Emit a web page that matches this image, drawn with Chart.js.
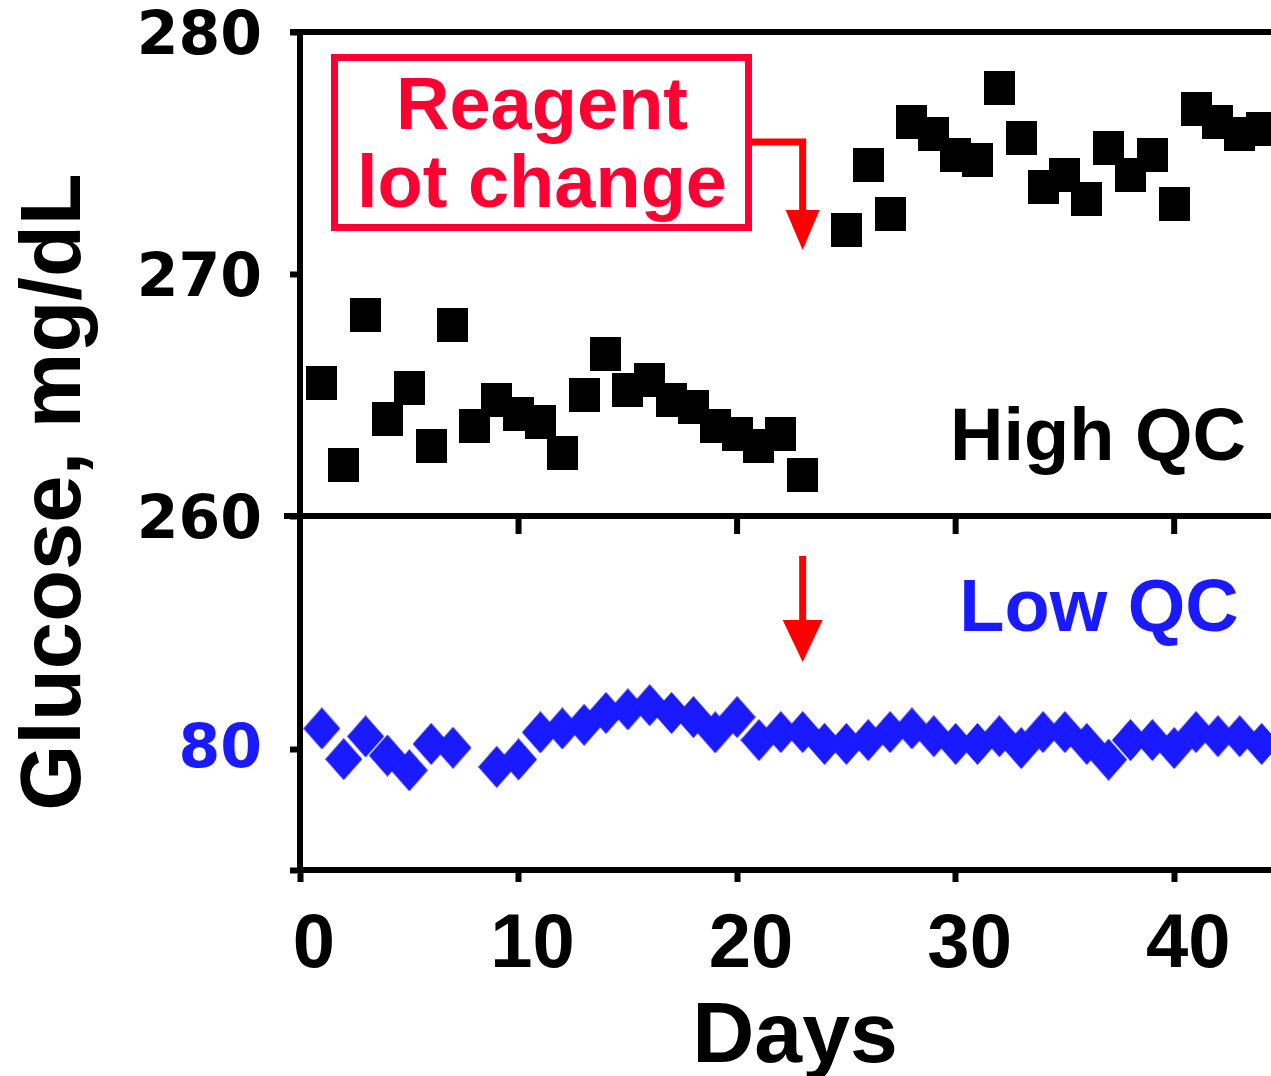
<!DOCTYPE html>
<html>
<head>
<meta charset="utf-8">
<title>Glucose QC - changement de lot</title>
<script src="https://cdn.jsdelivr.net/npm/chart.js@4.4.1/dist/chart.umd.min.js"></script>
<style>
  html, body { margin: 0; padding: 0; background: #fff; }
  #wrap { width: 1271px; height: 1076px; position: relative; }
</style>
</head>
<body>
<div id="wrap"><canvas id="qcChart"></canvas></div>
<script>
// Données
const highDays = [1, 2, 3, 4, 5, 6, 7, 8, 9, 10, 11, 12, 13, 14, 15, 16, 17, 18, 19, 20, 21, 22, 23,
                  25, 26, 27, 28, 29, 30, 31, 32, 33, 34, 35, 36, 37, 38, 39, 40, 41, 42, 43, 44];
const highValues = [265.5, 262.1, 268.3, 264.0, 265.3, 262.9, 267.9, 263.7, 264.8, 264.2, 263.9, 262.6,
                    265.0, 266.7, 265.2, 265.6, 264.8, 264.5, 263.7, 263.4, 262.9, 263.4, 261.7,
                    271.8, 274.5, 272.5, 276.3, 275.8, 274.9, 274.7, 277.7, 275.6, 273.6, 274.1,
                    273.1, 275.2, 274.1, 274.9, 272.9, 276.8, 276.3, 275.8, 276.0];
const lowDays = [1, 2, 3, 4, 5, 6, 7, 9, 10, 11, 12, 13, 14, 15, 16, 17, 18, 19, 20, 21, 22, 23, 24,
                 25, 26, 27, 28, 29, 30, 31, 32, 33, 34, 35, 36, 37, 38, 39, 40, 41, 42, 43, 44];
const lowValues = [80.85, 79.58, 80.52, 79.73, 79.12, 80.21, 80.05, 79.26, 79.57, 80.69, 80.85, 81.0,
                   81.49, 81.64, 81.81, 81.49, 81.32, 80.69, 81.32, 80.37, 80.70, 80.70, 80.21,
                   80.21, 80.37, 80.70, 80.85, 80.53, 80.21, 80.21, 80.53, 80.04, 80.70, 80.70,
                   80.21, 79.56, 80.37, 80.37, 80.04, 80.70, 80.53, 80.53, 80.21];
const dayTicks = [0, 10, 20, 30, 40];
const highTicks = [260, 270, 280];
const lowTicks = [75, 80];
const lowTickLabels = ['', '80'];
const lotChangeDay = 23;

const BLACK = '#000000';
const BLUE = '#1a1aff';
const RED = '#ff0000';
const PINK_RED = '#ff0033';
const FONT = "'Liberation Sans', Arial, sans-serif";
const WIDE_FONT = "'DejaVu Sans', Verdana, sans-serif";

// Marqueurs : carré noir et losange bleu
function squareMarker(w, h, color) {
    const c = document.createElement('canvas');
    c.width = w; c.height = h;
    const g = c.getContext('2d');
    g.fillStyle = color;
    g.fillRect(0, 0, w, h);
    return c;
}
function diamondMarker(w, h, color) {
    const c = document.createElement('canvas');
    c.width = w; c.height = h;
    const g = c.getContext('2d');
    g.fillStyle = color;
    g.beginPath();
    g.moveTo(w / 2, 0);
    g.lineTo(w, h / 2);
    g.lineTo(w / 2, h);
    g.lineTo(0, h / 2);
    g.closePath();
    g.fill();
    return c;
}

// Pas de marge automatique autour des axes
function noPadding(s) {
    s.paddingTop = 0;
    s.paddingBottom = 0;
    s.paddingLeft = 0;
    s.paddingRight = 0;
}

// Cadre, axe du milieu, flèches et textes
const decorPlugin = {
    id: 'decor',
    beforeDatasetsDraw(chart) {
        const ctx = chart.ctx;
        const area = chart.chartArea;
        const x = chart.scales.x;
        const mid = chart.scales.yHigh.bottom;
        ctx.save();
        ctx.strokeStyle = BLACK;
        ctx.lineWidth = 6;
        ctx.beginPath();
        ctx.moveTo(area.left - 10, area.top);
        ctx.lineTo(area.right + 5, area.top);
        ctx.moveTo(area.left - 16, mid);
        ctx.lineTo(area.right + 5, mid);
        dayTicks.forEach(v => {
            if (v === 0) return;
            const px = x.getPixelForValue(v);
            ctx.moveTo(px, mid);
            ctx.lineTo(px, mid + 18);
        });
        ctx.stroke();
        ctx.restore();
    },
    afterDraw(chart) {
        const ctx = chart.ctx;
        const x = chart.scales.x;
        const ax = x.getPixelForValue(lotChangeDay);
        ctx.save();

        // Titre de l'axe Y
        ctx.fillStyle = BLACK;
        ctx.font = 'bold 85px ' + FONT;
        ctx.textAlign = 'center';
        ctx.textBaseline = 'alphabetic';
        ctx.translate(80, 492);
        ctx.rotate(-Math.PI / 2);
        ctx.fillText('Glucose, mg/dL', 0, 0);
        ctx.setTransform(1, 0, 0, 1, 0, 0);

        // Titre de l'axe X
        ctx.font = 'bold 86px ' + FONT;
        ctx.fillText('Days', 795, 1062);

        // Encadré "Reagent lot change"
        ctx.strokeStyle = PINK_RED;
        ctx.lineWidth = 7;
        ctx.strokeRect(334.5, 57.5, 414, 170);
        ctx.fillStyle = PINK_RED;
        ctx.font = 'bold 74px ' + FONT;
        ctx.fillText('Reagent', 542, 129);
        ctx.fillText('lot change', 542, 207);

        // Flèche du haut
        ctx.strokeStyle = RED;
        ctx.fillStyle = RED;
        ctx.lineWidth = 7;
        ctx.beginPath();
        ctx.moveTo(752, 142);
        ctx.lineTo(ax, 142);
        ctx.lineTo(ax, 214);
        ctx.stroke();
        ctx.beginPath();
        ctx.moveTo(ax - 17, 210);
        ctx.lineTo(ax + 17, 210);
        ctx.lineTo(ax, 250);
        ctx.closePath();
        ctx.fill();

        // Flèche du bas
        ctx.beginPath();
        ctx.moveTo(ax, 556);
        ctx.lineTo(ax, 624);
        ctx.stroke();
        ctx.beginPath();
        ctx.moveTo(ax - 20, 620);
        ctx.lineTo(ax + 20, 620);
        ctx.lineTo(ax, 662);
        ctx.closePath();
        ctx.fill();

        // Étiquettes des séries
        ctx.font = 'bold 74px ' + FONT;
        ctx.fillStyle = BLACK;
        ctx.fillText('High QC', 1098, 460);
        ctx.fillStyle = BLUE;
        ctx.fillText('Low QC', 1099, 631);
        ctx.restore();
    }
};

const tickFontWide = { family: WIDE_FONT, size: 60, weight: 'bold', lineHeight: 1 };

new Chart(document.getElementById('qcChart'), {
    type: 'scatter',
    data: {
        datasets: [
            {
                label: 'High QC',
                data: highDays.map((d, i) => ({ x: d, y: highValues[i] })),
                yAxisID: 'yHigh',
                pointStyle: squareMarker(31, 34, BLACK),
                pointRadius: 17,
                showLine: false
            },
            {
                label: 'Low QC',
                data: lowDays.map((d, i) => ({ x: d, y: lowValues[i] })),
                yAxisID: 'yLow',
                pointStyle: diamondMarker(37, 42, BLUE),
                pointRadius: 20,
                showLine: false
            }
        ]
    },
    options: {
        responsive: true,
        maintainAspectRatio: false,
        devicePixelRatio: 1,
        animation: false,
        layout: { autoPadding: false, padding: { top: 32, left: 0, right: 0, bottom: 0 } },
        plugins: {
            legend: { display: false },
            tooltip: { enabled: false }
        },
        scales: {
            x: {
                type: 'linear',
                position: 'bottom',
                min: 0,
                max: 44.43,
                afterBuildTicks: s => { s.ticks = dayTicks.map(v => ({ value: v })); },
                afterFit: s => { s.height = 206; noPadding(s); },
                grid: { drawOnChartArea: false, drawTicks: true, tickLength: 12, tickWidth: 6, tickColor: BLACK },
                border: { display: true, color: BLACK, width: 6 },
                ticks: {
                    color: BLACK,
                    font: { family: FONT, size: 76, weight: 'bold', lineHeight: 1 },
                    padding: 26,
                    labelOffset: 14,
                    maxRotation: 0,
                    autoSkip: false
                }
            },
            // défini en premier : placé en bas de la pile
            yLow: {
                type: 'linear',
                position: 'left',
                stack: 'qc',
                stackWeight: 354,
                min: 75,
                max: 89.63,
                afterBuildTicks: s => { s.ticks = lowTicks.map(v => ({ value: v })); },
                afterFit: s => { s.width = 300; noPadding(s); },
                grid: { drawOnChartArea: false, drawTicks: true, tickLength: 10, tickWidth: 6, tickColor: BLACK },
                border: { display: true, color: BLACK, width: 6 },
                ticks: {
                    color: BLUE,
                    font: tickFontWide,
                    padding: 28,
                    labelOffset: 2,
                    callback: (v) => lowTickLabels[lowTicks.indexOf(v)] ?? ''
                }
            },
            yHigh: {
                type: 'linear',
                position: 'left',
                stack: 'qc',
                stackWeight: 484,
                min: 260,
                max: 280,
                afterBuildTicks: s => { s.ticks = highTicks.map(v => ({ value: v })); },
                afterFit: s => { s.width = 300; noPadding(s); },
                grid: { drawOnChartArea: false, drawTicks: true, tickLength: 10, tickWidth: 6, tickColor: BLACK },
                border: { display: true, color: BLACK, width: 6 },
                ticks: { color: BLACK, font: tickFontWide, padding: 28, labelOffset: 6 }
            }
        }
    },
    plugins: [decorPlugin]
});
</script>
</body>
</html>
